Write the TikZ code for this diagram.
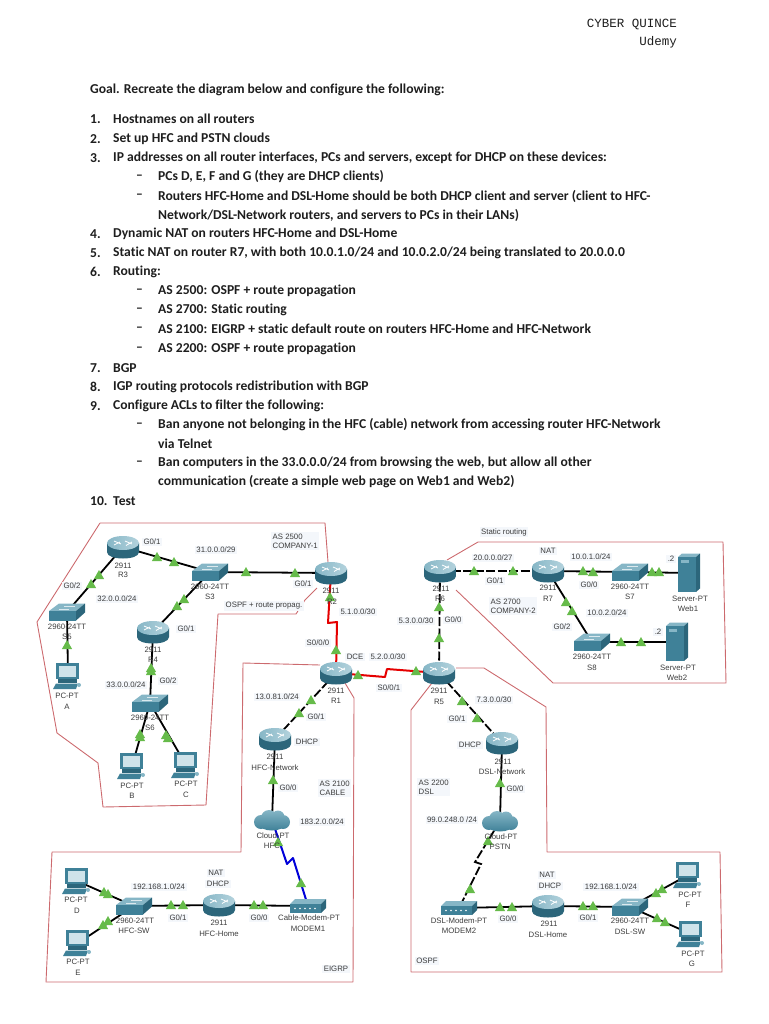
\documentclass[tikz,border=0pt]{standalone}
\usepackage{fontspec}
\setmainfont[Ligatures={NoCommon}]{Carlito}
\setsansfont{Liberation Sans}
\setmonofont{Liberation Mono}
\usetikzlibrary{backgrounds}
\definecolor{teal1}{HTML}{3F8198}
\definecolor{teal2}{HTML}{2C667B}
\definecolor{teal3}{HTML}{86B6C6}
\definecolor{teal4}{HTML}{B4D3DD}
\definecolor{screen}{HTML}{CFE3EA}
\definecolor{grn}{HTML}{66BB4A}
\definecolor{reg}{HTML}{CC6A6E}
\definecolor{txt}{HTML}{3C3C3C}
\definecolor{pale}{HTML}{F4F7FB}
\definecolor{bodytxt}{HTML}{1E1E1E}
\tikzset{
  x=1pt,y=-1pt,
  ptxt/.style={font=\fontsize{13.6}{15}\selectfont\bfseries,text=bodytxt,anchor=west,inner sep=0pt,yshift=-1pt},
  hdr/.style={font=\ttfamily\fontsize{12.5}{14}\selectfont,text=bodytxt,anchor=east,inner sep=0pt},
  lab/.style={font=\sffamily\fontsize{7.8}{9}\selectfont,text=txt,inner sep=1.5pt,fill=pale},
  dlab/.style={font=\sffamily\fontsize{7.8}{9}\selectfont,text=txt,inner sep=0pt},
  region/.style={draw=reg,line width=0.9pt,line join=round},
  wire/.style={draw=black,line width=1.8pt},
  wired/.style={wire,dash pattern=on 9pt off 2.5pt},
  wirer/.style={draw=red!90!black,line width=2pt,line join=round},
  wireb/.style={draw=blue!85!black,line width=2pt,line join=round},
  lk/.pic={\fill[grn] (-5.2,4.2) -- (5.2,4.2) -- (0,-5) -- cycle;},
  dev/.style={inner sep=0pt,outer sep=0pt,minimum width=44pt,minimum height=44pt},
  router/.style={dev,path picture={
    \begin{scope}[shift={(path picture bounding box.center)}]
      \path[left color=teal2,middle color=screen,right color=teal2]
        (-16,-4) -- (-16,5) .. controls (-16,9.5) and (-8,11.5) .. (0,11.5)
        .. controls (8,11.5) and (16,9.5) .. (16,5) -- (16,-4) -- cycle;
      \path[left color=teal3,right color=teal4] (0,-4) ellipse [x radius=16,y radius=7];
      \draw[white,line width=0.8pt] (-9,-6) -- (-2,-3) (2,-6) -- (9,-3) (-9,-2) -- (-3,-5) (3,-1.5) -- (9,-5);
    \end{scope}}},
  switchbox/.style={dev,path picture={
    \begin{scope}[shift={(path picture bounding box.center)}]
      \fill[teal3] (-18,-1) -- (-8,-8.5) -- (18,-8.5) -- (9,-1) -- cycle;
      \fill[teal1] (-18,-1) -- (9,-1) -- (9,8.5) -- (-18,8.5) -- cycle;
      \fill[teal2] (9,-1) -- (18,-8.5) -- (18,0.5) -- (9,8.5) -- cycle;
      \draw[white!70!teal3,line width=0.4pt] (-8,-3) -- (2,-3) (-3,-6) -- (8,-6);
    \end{scope}}},
  pcbox/.style={dev,path picture={
    \begin{scope}[shift={(path picture bounding box.center)}]
      \fill[teal1] (-12,-13) -- (11,-13) -- (11,3) -- (-12,3) -- cycle;
      \fill[screen] (-9,-10) -- (8,-10) -- (8,1) -- (-9,1) -- cycle;
      \fill[teal2] (-10,3) -- (9,3) -- (9,6.5) -- (-10,6.5) -- cycle;
      \fill[teal1] (-12,7.5) -- (10,7.5) -- (8,13) -- (-15,13) -- cycle;
      \fill[teal3] (11,9) circle [radius=2];
    \end{scope}}},
  serverbox/.style={dev,minimum height=48pt,path picture={
    \begin{scope}[shift={(path picture bounding box.center)}]
      \fill[teal3] (-11,-16) -- (-7,-19.5) -- (11,-19.5) -- (7,-16) -- cycle;
      \fill[teal1] (-11,-16) -- (7,-16) -- (7,19) -- (-11,19) -- cycle;
      \fill[teal2] (7,-16) -- (11,-19.5) -- (11,15.5) -- (7,19) -- cycle;
      \fill[teal3] (-8,-13) -- (0,-13) -- (0,-10.5) -- (-8,-10.5) -- cycle;
    \end{scope}}},
  cloudbox/.style={dev,path picture={
    \begin{scope}[shift={(path picture bounding box.center)}]
      \path[top color=teal3,bottom color=teal1]
        (-11,2) circle [radius=7]  (11,2) circle [radius=7]
        (-3,-2) circle [radius=8] (6,-3) circle [radius=6.5]
        (0,4) ellipse [x radius=13,y radius=6.5];
    \end{scope}}},
  modembox/.style={dev,path picture={
    \begin{scope}[shift={(path picture bounding box.center)}]
      \fill[teal3] (-18,-2) -- (-13,-7) -- (18,-7) -- (13,-2) -- cycle;
      \fill[teal1] (-18,-2) -- (13,-2) -- (13,7) -- (-18,7) -- cycle;
      \fill[teal2] (13,-2) -- (18,-7) -- (18,2) -- (13,7) -- cycle;
      \foreach \d in {-13,-8,-3,2,7} \fill[white] (\d,2.5) circle [radius=0.9];
    \end{scope}}}
}
\pgfdeclarelayer{wires}
\pgfsetlayers{wires,main}
\begin{document}
\begin{tikzpicture}
\useasboundingbox (0,0) rectangle (768,1024);

% page text
\node[hdr] (h1) at (677,25) {CYBER QUINCE};
\node[hdr] (h2) at (677,42) {Udemy};
\node[ptxt] (goal) at (90,89) {Goal. Recreate the diagram below and configure the following:};
\foreach \n/\yy/\tx in {
  1./118/{Hostnames on all routers},
  2./138/{Set up HFC and PSTN clouds},
  3./157/{IP addresses on all router interfaces, PCs and servers, except for DHCP on these devices:},
  4./233/{Dynamic NAT on routers HFC-Home and DSL-Home},
  5./252/{Static NAT on router R7, with both 10.0.1.0/24 and 10.0.2.0/24 being translated to 20.0.0.0},
  6./271/{Routing:},
  7./367/{BGP},
  8./386/{IGP routing protocols redistribution with BGP},
  9./405/{Configure ACLs to filter the following:},
  10./500/{Test}}{
  \node[ptxt] (n\yy) at (90,\yy) {\n};
  \node[ptxt] (t\yy) at (113,\yy) {\tx};
}
\foreach \yy/\tx in {
  176/{PCs D, E, F and G (they are DHCP clients)},
  195/{Routers HFC-Home and DSL-Home should be both DHCP client and server (client to HFC-},
  290/{AS 2500: OSPF + route propagation},
  309/{AS 2700: Static routing},
  328/{AS 2100: EIGRP + static default route on routers HFC-Home and HFC-Network},
  348/{AS 2200: OSPF + route propagation},
  424/{Ban anyone not belonging in the HFC (cable) network from accessing router HFC-Network},
  462/{Ban computers in the 33.0.0.0/24 from browsing the web, but allow all other}}{
  \node[ptxt] (d\yy) at (136,\yy) {--};
  \node[ptxt] (s\yy) at (158,\yy) {\tx};
}
\foreach \yy/\tx in {
  214/{Network/DSL-Network routers, and servers to PCs in their LANs)},
  443/{via Telnet},
  481/{communication (create a simple web page on Web1 and Web2)}}{
  \node[ptxt] (c\yy) at (158,\yy) {\tx};
}

% regions
\draw[region] (100,523) -- (325,523) -- (328,562) (317,588) -- (305,600) -- (296,614) -- (218,614)
  -- (206,805) -- (103,807) -- (98,763) -- (57,733) -- (37,622) -- (100,523);
\draw[region] (447,560) -- (478,542) -- (723,542) -- (726,683) -- (553,683) -- (456,590);
\draw[region] (320,665) -- (243,663) -- (241,852) -- (52,852) -- (46,982) -- (353,982) -- (354,698) -- (345,683);
\draw[region] (456,668) -- (484,668) -- (546,707) -- (547,852) -- (720,852) -- (722,972) -- (411,972) -- (411,710) -- (432,683);

% devices
\node[router] (r3) at (123,547) {};
\node[router] (r2) at (331,573) {};
\node[router] (r4) at (153,632) {};
\node[router] (r1) at (336,673) {};
\node[router] (hfcnet) at (275,739) {};
\node[router] (r6) at (440,571) {};
\node[router] (r7) at (548,571) {};
\node[router] (r5) at (439,673) {};
\node[router] (dslnet) at (502,743) {};
\node[router] (hfchome) at (219,905) {};
\node[router] (dslhome) at (548,906) {};
\node[switchbox] (s3) at (210,572) {};
\node[switchbox] (s5) at (67,612) {};
\node[switchbox] (s6) at (150,703) {};
\node[switchbox] (s7) at (630,572) {};
\node[switchbox] (s8) at (592,642) {};
\node[switchbox] (hfcsw) at (134,906) {};
\node[switchbox] (dslsw) at (630,907) {};
\node[pcbox] (pca) at (68,676) {};
\node[pcbox] (pcb) at (132,766) {};
\node[pcbox] (pcc) at (186,765) {};
\node[pcbox] (pcd) at (77,881) {};
\node[pcbox] (pce) at (78,943) {};
\node[pcbox] (pcf) at (688,875) {};
\node[pcbox] (pcg) at (691,934) {};
\node[serverbox] (web1) at (689,573) {};
\node[serverbox] (web2) at (677,642) {};
\node[cloudbox] (hfc) at (272,820) {};
\node[cloudbox] (pstn) at (500,821) {};
\node[modembox] (mod1) at (308,906) {};
\node[modembox] (mod2) at (459,908) {};

% bends of the serial and coaxial links
\coordinate (b1) at (328,623);
\coordinate (b2) at (337,622);
\coordinate (b3) at (385,677);
\coordinate (b4) at (387,669);
\coordinate (b5) at (287,864);
\coordinate (b6) at (293,858);
\coordinate (b7) at (475,862);
\coordinate (b8) at (481,864);

% connectors
\begin{pgfonlayer}{wires}
\draw[wire] (r3.center) -- (s3.center);
\draw[wire] (r3.center) -- (s5.center);
\draw[wire] (s5.center) -- (pca.center);
\draw[wire] (s3.center) -- (r2.center);
\draw[wire] (s3.center) -- (r4.center);
\draw[wire] (r4.center) -- (s6.center);
\draw[wire] (s6.center) -- (pcb.center);
\draw[wire] (s6.center) -- (pcc.center);
\draw[wirer] (r2.center) -- (b1) -- (b2) -- (r1.center);
\draw[wirer] (r1.center) -- (b3) -- (b4) -- (r5.center);
\draw[wired] (r1.center) -- (hfcnet.center);
\draw[wire] (hfcnet.center) -- (hfc.center);
\draw[wireb] (hfc.center) -- (b5) -- (b6) -- (mod1.center);
\draw[wire] (mod1.center) -- (hfchome.center);
\draw[wire] (hfchome.center) -- (hfcsw.center);
\draw[wire] (hfcsw.center) -- (pcd.center);
\draw[wire] (hfcsw.center) -- (pce.center);
\draw[wired] (r6.center) -- (r7.center);
\draw[wire] (r7.center) -- (s7.center);
\draw[wire] (s7.center) -- (web1.center);
\draw[wire] (r7.center) -- (s8.center);
\draw[wire] (s8.center) -- (web2.center);
\draw[wired] (r6.center) -- (r5.center);
\draw[wired] (r5.center) -- (dslnet.center);
\draw[wire] (dslnet.center) -- (pstn.center);
\draw[wired] (pstn.center) -- (b7) -- (b8) -- (mod2.center);
\draw[wire] (mod2.center) -- (dslhome.center);
\draw[wire] (dslhome.center) -- (dslsw.center);
\draw[wire] (dslsw.center) -- (pcf.center);
\draw[wire] (dslsw.center) -- (pcg.center);
\foreach \p in {(157,557),(174,562),(99,575),(91,584),(67,645),(246,572),(295,573),(184,599),(177,606),
  (151,668),(151,671),(140,734),(140,737),(168,738),(166,735),(330,597),(336,650),(358,675),(416,671),
  (311,700),(299,713),(273,780),(278,842),(301,883),(263,905),(254,905),(183,905),(171,905),
  (104,892),(108,894),(103,925),(108,921),(474,571),(513,571),(583,571),(593,572),(652,572),(659,572),
  (566,602),(572,611),(621,642),(641,642),(439,607),(439,638),(462,701),(477,718),(500,783),
  (488,841),(470,889),(500,907),(512,907),(583,906),(593,906),(656,893),(662,889),(657,918),(665,922)}
  \pic at \p {lk};
\end{pgfonlayer}

% device labels
\foreach \nm/\xx/\yy/\tx in {
  a1/123/566/2911,a2/123/575/R3,a3/210/587/2960-24TT,a4/210/597/S3,a5/331/591/2911,a6/332/602/R2,
  a7/67/627/2960-24TT,a8/67/637/S5,a9/153/650/2911,a10/153/660/R4,a11/336/691/2911,a12/336/701/R1,
  a13/150/718/2960-24TT,a14/150/728/S6,a15/275/757/2911,a16/275/768/HFC-Network,
  a17/67/696/PC-PT,a18/67/707/A,a19/132/786/PC-PT,a20/132/796/B,a21/186/784/PC-PT,a22/186/795/C,
  a23/441/589/2911,a24/440/599/R6,a25/548/588/2911,a26/548/599/R7,a27/630/587/2960-24TT,a28/630/597/S7,
  a29/690/599/Server-PT,a30/688/609/Web1,a31/592/657/2960-24TT,a32/592/668/S8,a33/678/668/Server-PT,a34/677/678/Web2,
  a35/439/691/2911,a36/439/702/R5,a37/503/762/2911,a38/502/772/DSL-Network,
  a39/273/836/Cloud-PT,a40/272/846/HFC,a41/135/921/2960-24TT,a42/134/931/HFC-SW,a43/219/923/2911,a44/219/934/HFC-Home,
  a45/309/918/Cable-Modem-PT,a46/308/929/MODEM1,a47/76/900/PC-PT,a48/77/911/D,a49/78/962/PC-PT,a50/78/973/E,
  a51/501/837/Cloud-PT,a52/500/847/PSTN,a53/690/895/PC-PT,a54/688/905/F,a55/459/921/DSL-Modem-PT,a56/459/931/MODEM2,
  a57/549/924/2911,a58/548/935/DSL-Home,a59/630/921/2960-24TT,a60/630/932/DSL-SW,a61/693/954/PC-PT,a62/692/964/G}{
  \node[dlab] (\nm) at (\xx,\yy) {\tx};
}

% network and interface labels
\foreach \nm/\xx/\yy/\tx in {
  l1/152/542/{G0/1},l2/216/550/{31.0.0.0/29},l3/72/586/{G0/2},l4/117/599/{32.0.0.0/24},l5/303/584/{G0/1},
  l6/264/606/{OSPF + route propag.},l7/358/612/{5.1.0.0/30},l8/186/629/{G0/1},l9/318/643/{S0/0/0},l10/355/657/{DCE},
  l11/388/657/{5.2.0.0/30},l12/126/685/{33.0.0.0/24},l13/168/681/{G0/2},l14/389/688/{S0/0/1},l15/277/697/{13.0.81.0/24},
  l16/316/717/{G0/1},l17/307/742/{DHCP},l18/288/788/{G0/0},l19/504/532/{Static routing},l20/493/558/{20.0.0.0/27},
  l21/548/551/{NAT},l22/591/557/{10.0.1.0/24},l23/671/559/{.2},l24/495/581/{G0/1},l25/589/585/{G0/0},l26/416/621/{5.3.0.0/30},
  l27/453/620/{G0/0},l28/607/613/{10.0.2.0/24},l29/562/627/{G0/2},l30/658/632/{.2},l31/494/700/{7.3.0.0/30},l32/457/719/{G0/1},
  l33/470/745/{DHCP},l34/515/789/{G0/0},l35/322/822/{183.2.0.0/24},l36/216/873/{NAT},l37/218/884/{DHCP},l38/159/887/{192.168.1.0/24},
  l39/178/918/{G0/1},l40/259/918/{G0/0},l41/336/969/{EIGRP},l42/452/820/{99.0.248.0 /24},l43/547/875/{NAT},l44/550/886/{DHCP},
  l45/611/887/{192.168.1.0/24},l46/508/919/{G0/0},l47/588/918/{G0/1},l48/427/961/{OSPF}}{
  \node[lab] (\nm) at (\xx,\yy) {\tx};
}
\node[lab,align=left,anchor=west] (as1) at (271,541) {AS 2500\\COMPANY-1};
\node[lab,align=left,anchor=west] (as2) at (489,606) {AS 2700\\COMPANY-2};
\node[lab,align=left,anchor=west] (as3) at (318,788) {AS 2100\\CABLE};
\node[lab,align=left,anchor=west] (as4) at (417,787) {AS 2200\\DSL};
\end{tikzpicture}
\end{document}
